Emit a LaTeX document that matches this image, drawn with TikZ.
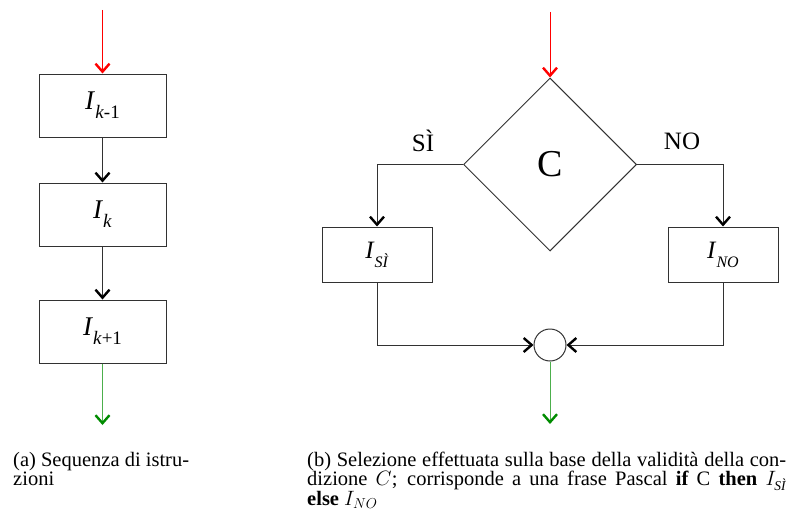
\documentclass[tikz,border=0pt]{standalone}
\usepackage{fontspec}
\setmainfont{Liberation Serif}
\usetikzlibrary{arrows.meta,shapes.geometric}
\definecolor{lineg}{RGB}{50,50,50}
\definecolor{redc}{RGB}{255,0,0}
\definecolor{greenc}{RGB}{0,140,0}
\tikzset{
  instr/.style={draw=lineg, line width=1pt, minimum width=127pt, minimum height=63pt, inner sep=0pt, font=\fontsize{27}{30}\selectfont},
  instrsmall/.style={draw=lineg, line width=1pt, minimum width=110pt, minimum height=55pt, inner sep=0pt, font=\fontsize{25}{28}\selectfont},
  flow/.style={draw=lineg, line width=1pt, -{Straight Barb[length=8pt,width=14pt,line width=2.4pt,black]}},
  redflow/.style={draw=redc, line width=1pt, -{Straight Barb[length=8pt,width=14pt,line width=2.4pt,redc]}},
  greenflow/.style={draw=greenc!70, line width=1pt, -{Straight Barb[length=8pt,width=14pt,line width=2.4pt,greenc]}},
  caption/.style={anchor=base west, inner sep=0pt},
  branchlabel/.style={font=\fontsize{25}{28}\selectfont, inner sep=0pt}
}
\newcommand{\subsc}[1]{\raisebox{-9pt}{\fontsize{19}{20}\selectfont #1}}
\newcommand{\capfont}{\fontsize{20.5}{19.9}\selectfont}
\begin{document}
\begin{tikzpicture}[x=1pt,y=-1pt]
\useasboundingbox (0,0) rectangle (792,519);
% (a) sequence
\coordinate (ain) at (102.5,10);
\node[instr] (i1) at (102.5,105.5) {\textit{I}\subsc{\textit{k}-1}};
\node[instr] (i2) at (102.5,214.5) {\textit{I}\subsc{\textit{k}}};
\node[instr] (i3) at (102.5,331.5) {\textit{I}\subsc{\textit{k}+1}};
\coordinate (aout) at (102.5,425);
\draw[redflow] (ain) -- (i1.north);
\draw[flow] (i1.south) -- (i2.north);
\draw[flow] (i2.south) -- (i3.north);
\draw[greenflow] (i3.south) -- (aout);
% (b) selection
\coordinate (bin) at (550,12);
\node[diamond, draw=lineg, line width=1pt, minimum width=173pt, minimum height=173pt, inner sep=0pt, font=\fontsize{38}{40}\selectfont] (c) at (550,164.5) {C};
\node[instrsmall] (isi) at (377,254.5) {\textit{I}\subsc{\textit{\fontsize{16}{18}\selectfont SÌ}}};
\node[instrsmall] (ino) at (723,254.5) {\textit{I}\subsc{\textit{\fontsize{16}{18}\selectfont NO}}};
\node[draw=lineg, line width=1pt, circle, minimum size=32pt, inner sep=0pt] (j) at (550,345) {};
\coordinate (bout) at (550,424);
\node[branchlabel] (lsi) at (423,141) {SÌ};
\node[branchlabel] (lno) at (682,141) {NO};
\draw[redflow] (bin) -- (c.north);
\draw[flow] (c.west) -| (isi.north);
\draw[flow] (c.east) -| (ino.north);
\draw[flow] (isi.south) |- (j.west);
\draw[flow] (ino.south) |- (j.east);
\draw[greenflow] (j.south) -- (bout);
% captions
\node[caption] (capa) at (13,466) {\parbox[t]{230pt}{\capfont\raggedright (a) Sequenza di istru-\\zioni}};
\node[caption] (capb) at (307,466) {\parbox[t]{479pt}{\capfont (b) Selezione effettuata sulla base della validità della con-\linebreak dizione $C$; corrisponde a una frase Pascal \textbf{if} C \textbf{then} $I_{\mbox{\fontsize{13.5}{13.5}\selectfont\itshape SÌ}}$\linebreak \textbf{else} $I_{NO}$}};
\end{tikzpicture}
\end{document}
